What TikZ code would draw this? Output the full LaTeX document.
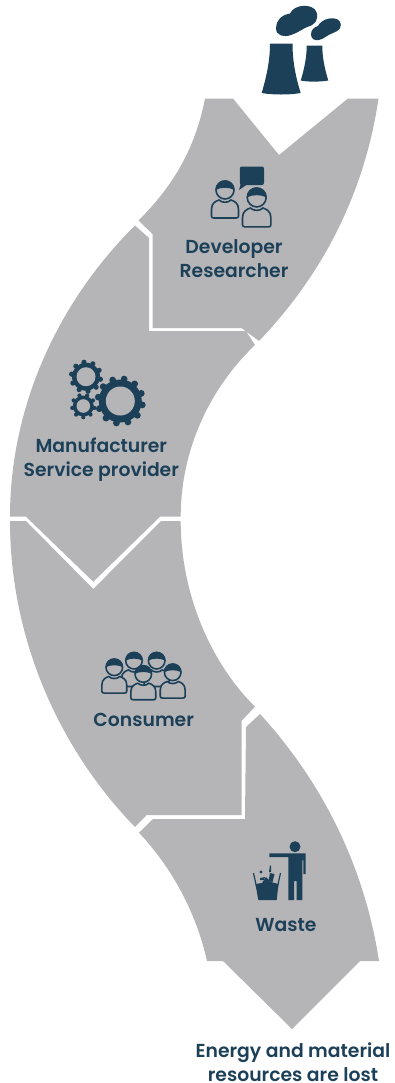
\documentclass[tikz,border=0pt]{standalone}
\usepackage{fontspec}
\setmainfont{Poppins}[BoldFont={Poppins SemiBold}]
\definecolor{navy}{HTML}{1D4059}
\definecolor{stone}{HTML}{B5B5B7}

% one person: head centre at #1, size #2
\newcommand{\person}[2]{
  \begin{scope}[shift={(#1)},scale=#2]
    \draw[line] (-13.5,26) -- (-13.5,19) .. controls (-13.5,13) and (-9,11) .. (-6,10)
      .. controls (-3,13) and (3,13) .. (6,10) .. controls (9,11) and (13.5,13) .. (13.5,19)
      -- (13.5,26) .. controls (13.5,27.5) and (12.5,28) .. (11,28) -- (-11,28)
      .. controls (-12.5,28) and (-13.5,27.5) .. (-13.5,26) -- cycle;
    \draw[line] (0,0) circle (9);
    \fill[navy] (-9.5,0) .. controls (-9.5,-13) and (9.5,-13) .. (9.5,0) .. controls (4,-3) and (-4,-3) .. (-9.5,0) -- cycle;
  \end{scope}
}
% one gear: centre #1, hole #2, body #3, tooth centre #4, tooth size #5, step #6
\newcommand{\gearwheel}[6]{
  \begin{scope}[shift={(#1)}]
    \fill[navy] (0,0) circle (#3);
    \foreach \a in {0,#6,...,359} \fill[navy] (\a+10:#4) circle (#5);
    \fill[stone] (0,0) circle (#2);
  \end{scope}
}

\begin{document}
\begin{tikzpicture}[x=0.75pt,y=-0.75pt]
  \tikzstyle{piece} = [fill=stone]
  \tikzstyle{line} = [draw=navy, line width=1.2pt, fill=stone]
  \tikzstyle{format} = [text=navy, align=center, inner sep=0pt, font=\bfseries\fontsize{14.1}{18}\selectfont]
  \useasboundingbox (0,0) rectangle (395,1083);

  % the four bands
  \fill[piece] (205,98.5) -- (233,98.5) -- (279,155) -- (348,98.5) -- (378.5,98.5)
    .. controls (365,190) and (325,272) .. (259,341) -- (241.5,328) -- (152.5,328) -- (152.5,234) -- (138.5,220.5)
    .. controls (172,187) and (195,150) .. (205,98.5) -- cycle;
  \fill[piece] (135,225.5) -- (149,238) -- (149,331) -- (246,331) -- (255,345)
    .. controls (208,390) and (180.7,452) .. (180.7,516.7) -- (160,516.7) -- (93.3,581.7) -- (26,516.7) -- (10,516.7)
    .. controls (10,410) and (55,305) .. (135,225.5) -- cycle;
  \fill[piece] (10,521) -- (26,521) -- (93.3,589) -- (161,521) -- (180.7,521)
    .. controls (180.7,590) and (208,660) .. (255,706.7) -- (241.7,720.7) -- (241.7,815) -- (146.7,815) -- (135,827)
    .. controls (60,750) and (10,640) .. (10,521) -- cycle;
  \fill[piece] (260,714) -- (246,727) -- (245,819) -- (153,819) -- (139,832.7)
    .. controls (172,868) and (196,912) .. (207,961) -- (223,961) -- (292,1029) -- (360,961) -- (379,961)
    .. controls (365,870) and (325,785) .. (260,714) -- cycle;

  % power plant
  \fill[navy] (270,43.5) -- (292.5,43.5) .. controls (292.5,62) and (296,78) .. (300.7,93)
    .. controls (290,95) and (272,95) .. (261.7,93) .. controls (266,78) and (270,62) .. (270,43.5) -- cycle;
  \fill[navy] (306.7,45.7) -- (322.3,45.7) .. controls (322.3,58) and (325,70) .. (328.3,80.5)
    .. controls (320,82) and (308,82) .. (300.7,80.5) .. controls (304,70) and (306.7,58) .. (306.7,45.7) -- cycle;
  \fill[navy] (276,28) .. controls (276,21) and (281,15) .. (290,13.5) .. controls (294,4) and (313,3) .. (316.5,12)
    .. controls (319,20) and (315,25) .. (307,27) .. controls (301,30) and (297,33) .. (291,35)
    .. controls (284,37.5) and (276,36) .. (276,28) -- cycle;
  \fill[navy] (311,34.5) .. controls (311,30) and (314,27) .. (318,26) .. controls (322,18) and (335,16) .. (339.5,21)
    .. controls (343,27) and (339,31) .. (333,33) .. controls (327,35) and (324,39) .. (319,40)
    .. controls (315,41) and (311,39) .. (311,34.5) -- cycle;

  % developer and researcher
  \person{225,190}{1}
  \person{256.7,197.5}{1.05}
  \fill[navy, rounded corners=1.5pt] (239.8,166.5) rectangle (264,185);
  \fill[navy] (241,183) -- (239,190) -- (247,184.5) -- cycle;
  \draw (234,259) node[format] (dev) {Developer\\Researcher};

  % gears
  \gearwheel{120.3,401}{14.5}{21.5}{22.3}{3.4}{30}
  \gearwheel{86,376.7}{9.5}{14}{14.6}{2.6}{36}
  \gearwheel{83.3,406}{6.8}{10.5}{11.2}{2.1}{40}
  \draw (101.3,460) node[format] (man) {Manufacturer\\Service provider};

  % consumers
  \person{134,660.7}{0.92}
  \person{156.7,660.7}{0.92}
  \person{114.3,667.3}{0.92}
  \person{172.7,672.3}{0.92}
  \person{143.3,674}{0.92}
  \draw (143.7,720) node[format] (con) {Consumer};

  % waste
  \fill[navy] (295,846.7) circle (5.5);
  \fill[navy] (269.3,853.3) -- (305.7,853.3) -- (305.7,874) -- (303.3,874) -- (303.3,860) -- (302.3,860) -- (302.3,900) -- (296.7,900)
    -- (296.7,881) -- (294.2,881) -- (294.2,900) -- (288.3,900) -- (288.3,857) -- (269.3,857) -- cycle;
  \draw[navy, line width=0.9pt] (253.5,873) -- (257,889);
  \draw[navy, line width=0.9pt] (280.5,873) -- (277,889);
  \fill[navy] (255.5,884) -- (262,883) -- (266,877) -- (271,882) -- (278.5,884) -- (276.7,900) -- (258.3,900) -- cycle;
  \fill[navy] (270,873) -- (274.5,874) -- (272.5,882) -- (268.5,881) -- cycle;
  \fill[navy] (269,872) -- (270,865) -- (271,866) -- (271,872) -- cycle;
  \fill[navy] (261,872) circle (1.7);
  \fill[navy] (260,878) -- (265,877) -- (264,880) -- (260,880) -- cycle;
  \draw (286,925) node[format] (was) {Waste};

  \draw (293,1062.5) node[format] (los) {Energy and material\\resources are lost};
\end{tikzpicture}
\end{document}
